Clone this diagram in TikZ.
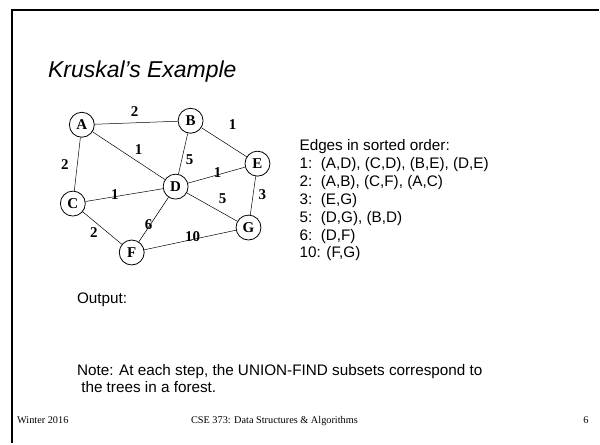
\documentclass[tikz,border=0pt]{standalone}
\usepackage{fontspec}
\setmainfont{Liberation Serif}
\setsansfont{Liberation Sans}
\tikzset{
  vertex/.style={circle,draw,line width=0.8pt,minimum size=25pt,inner sep=0pt,
    font=\fontsize{15}{15}\selectfont\bfseries\rmfamily},
  edge/.style={line width=0.5pt},
  wt/.style={font=\fontsize{15}{15}\selectfont\bfseries\rmfamily,inner sep=0pt},
  body/.style={font=\fontsize{15.3}{18}\selectfont\sffamily,inner sep=0pt,anchor=base west},
  foot/.style={font=\fontsize{10.3}{12}\selectfont\rmfamily,inner sep=0pt,anchor=base west},
  borderline/.style={line width=2.5pt,draw=black}
}
\begin{document}
\begin{tikzpicture}[x=1pt,y=-1pt]
\fill[white] (0,0) rectangle (600,444);
\draw[borderline] (600,10) -- (12,10) -- (12,444);
\node[font=\fontsize{23}{23}\selectfont\sffamily\itshape,inner sep=0pt,anchor=base west] (title) at (48,78) {Kruskal’s Example};
% vertices
\node[vertex] (A) at (82,125) {A};
\node[vertex] (B) at (191,121) {B};
\node[vertex] (E) at (258,164) {E};
\node[vertex] (D) at (176,187) {D};
\node[vertex] (C) at (73,204) {C};
\node[vertex] (G) at (249,228) {G};
\node[vertex] (F) at (132,253) {F};
% edges
\draw[edge] (A) -- (B);
\draw[edge] (A) -- (C);
\draw[edge] (A) -- (D);
\draw[edge] (B) -- (E);
\draw[edge] (B) -- (D);
\draw[edge] (D) -- (E);
\draw[edge] (C) -- (D);
\draw[edge] (D) -- (G);
\draw[edge] (E) -- (G);
\draw[edge] (C) -- (F);
\draw[edge] (D) -- (F);
\draw[edge] (F) -- (G);
% weights
\node[wt] (wAB) at (135,112) {2};
\node[wt] (wBE) at (233,125) {1};
\node[wt] (wAD) at (139,150) {1};
\node[wt] (wBD) at (190,160) {5};
\node[wt] (wAC) at (65,165) {2};
\node[wt] (wDE) at (218,173) {1};
\node[wt] (wCD) at (115,195) {1};
\node[wt] (wDG) at (223,199) {5};
\node[wt] (wEG) at (263,195) {3};
\node[wt] (wCF) at (94,233) {2};
\node[wt] (wDF) at (149,225) {6};
\node[wt] (wFG) at (193,237) {10};
% sorted list
\node[body] (h) at (300,151) {Edges in sorted order:};
\node[body] (l1) at (300,169) {1:\ \ (A,D), (C,D), (B,E), (D,E)};
\node[body] (l2) at (300,187) {2:\ \ (A,B), (C,F), (A,C)};
\node[body] (l3) at (300,205) {3:\ \ (E,G)};
\node[body] (l5) at (300,223) {5:\ \ (D,G), (B,D)};
\node[body] (l6) at (300,241) {6:\ \ (D,F)};
\node[body] (l10) at (300,258) {10: (F,G)};
% output and note
\node[body] (out) at (77,304) {Output:};
\node[body] (note1) at (77,376) {Note: At each step, the UNION-FIND subsets correspond to};
\node[body] (note2) at (77,393) {\ the trees in a forest.};
% footer
\node[foot] (f1) at (17,424) {Winter 2016};
\node[foot,anchor=base] (f2) at (275,424) {CSE 373: Data Structures \& Algorithms};
\node[foot,anchor=base east] (f3) at (590,424) {6};
\useasboundingbox (0,0) rectangle (600,444);
\end{tikzpicture}
\end{document}
